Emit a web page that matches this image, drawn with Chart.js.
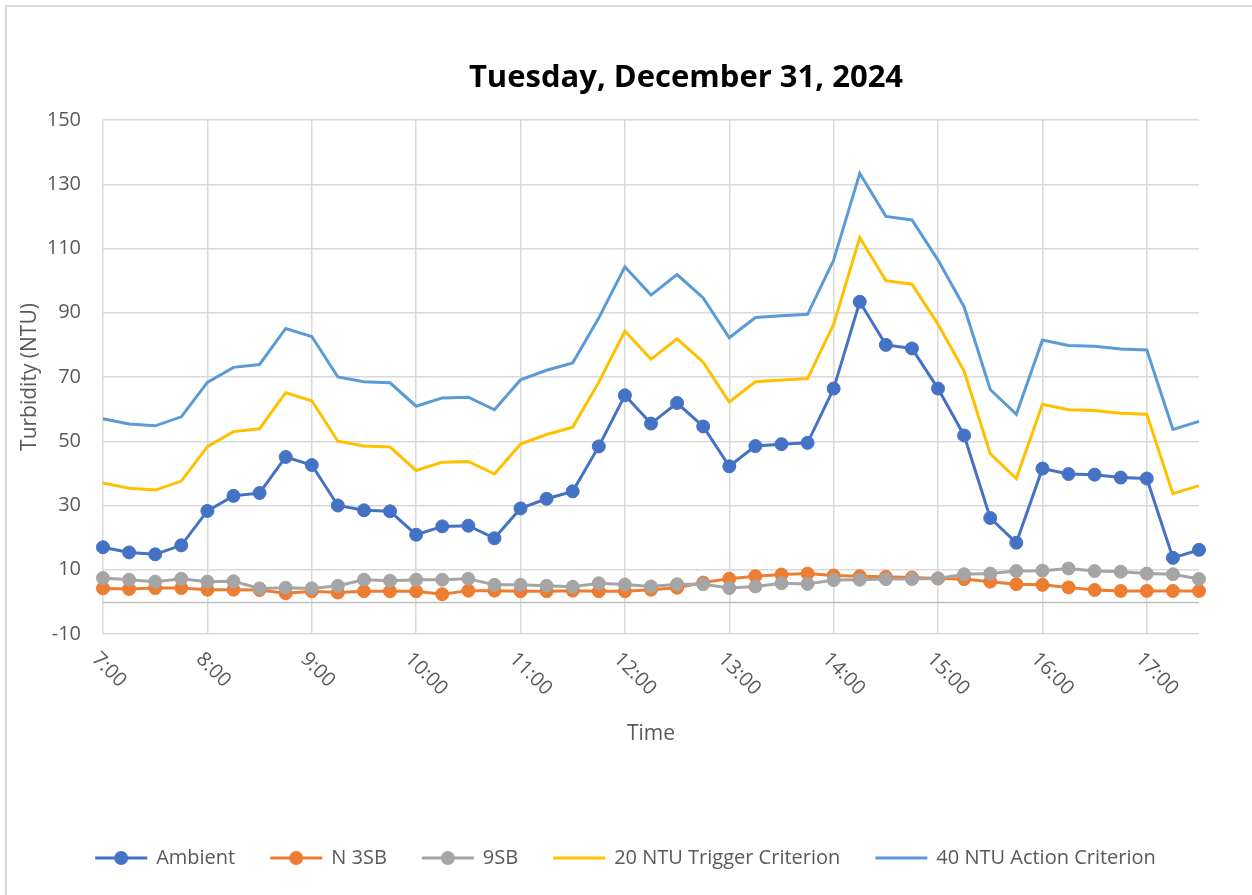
<!DOCTYPE html>
<html>
<head>
<meta charset="utf-8">
<title>Turbidity - Tuesday, December 31, 2024</title>
<script src="https://cdn.jsdelivr.net/npm/chart.js@4.4.1/dist/chart.umd.min.js"></script>
<style>
    html, body { margin: 0; padding: 0; background: #fff; }
    body { width: 1252px; height: 895px; overflow: hidden; position: relative; }
    .frame {
        position: absolute; left: 5px; top: 5px; width: 1400px; height: 1000px;
        border-left: 2px solid #d9d9d9; border-top: 2px solid #d9d9d9;
    }
    #turbidityChart { position: absolute; left: 0; top: 0; }
</style>
</head>
<body>
<div class="frame"></div>
<canvas id="turbidityChart" width="1252" height="895"></canvas>
<script>
const chartTitle = 'Tuesday, December 31, 2024';

// 15 minute readings
const times = [
    '7:00', '7:15', '7:30', '7:45', '8:00', '8:15', '8:30', '8:45',
    '9:00', '9:15', '9:30', '9:45', '10:00', '10:15', '10:30', '10:45',
    '11:00', '11:15', '11:30', '11:45', '12:00', '12:15', '12:30', '12:45',
    '13:00', '13:15', '13:30', '13:45', '14:00', '14:15', '14:30', '14:45',
    '15:00', '15:15', '15:30', '15:45', '16:00', '16:15', '16:30', '16:45',
    '17:00', '17:15', '17:30'
];

const ambient = [
    17, 15.4, 14.8, 17.6, 28.3, 33, 33.9, 45.1,
    42.6, 30, 28.5, 28.2, 20.9, 23.5, 23.7, 19.8,
    29.1, 32.1, 34.4, 48.4, 64.3, 55.5, 61.9, 54.6,
    42.2, 48.5, 49.1, 49.5, 66.4, 93.4, 80, 78.9,
    66.4, 51.8, 26.1, 18.4, 41.5, 39.8, 39.6, 38.7,
    38.4, 13.7, 16.2
];

const n3sb = [
    4.2, 4, 4.3, 4.3, 3.8, 3.8, 3.7, 2.7,
    3.3, 2.9, 3.3, 3.3, 3.3, 2.4, 3.5, 3.5,
    3.3, 3.3, 3.5, 3.3, 3.3, 3.8, 4.4, 6,
    7.2, 8, 8.5, 8.8, 8.2, 8, 7.8, 7.6,
    7.3, 7.1, 6.3, 5.5, 5.3, 4.5, 3.7, 3.4,
    3.4, 3.4, 3.4
];

const sb9 = [
    7.4, 6.9, 6.3, 7.2, 6.3, 6.4, 4.2, 4.4,
    4.2, 5, 6.9, 6.6, 6.9, 6.9, 7.2, 5.3,
    5.3, 5, 4.7, 5.8, 5.4, 4.8, 5.5, 5.5,
    4.3, 4.8, 5.8, 5.6, 6.8, 6.9, 7.1, 7.1,
    7.3, 8.6, 8.8, 9.6, 9.7, 10.4, 9.6, 9.4,
    8.8, 8.6, 7.1
];

const triggerCriterion = [
    37, 35.4, 34.8, 37.6, 48.3, 53, 53.9, 65.1,
    62.6, 50, 48.5, 48.2, 40.9, 43.5, 43.7, 39.8,
    49.1, 52.1, 54.4, 68.4, 84.3, 75.5, 81.9, 74.6,
    62.2, 68.5, 69.1, 69.5, 86.4, 113.4, 100, 98.9,
    86.4, 71.8, 46.1, 38.4, 61.5, 59.8, 59.6, 58.7,
    58.4, 33.7, 36.2
];

const actionCriterion = [
    57, 55.4, 54.8, 57.6, 68.3, 73, 73.9, 85.1,
    82.6, 70, 68.5, 68.2, 60.9, 63.5, 63.7, 59.8,
    69.1, 72.1, 74.4, 88.4, 104.3, 95.5, 101.9, 94.6,
    82.2, 88.5, 89.1, 89.5, 106.4, 133.4, 120, 118.9,
    106.4, 91.8, 66.1, 58.4, 81.5, 79.8, 79.6, 78.7,
    78.4, 53.7, 56.2
];

const yTicks = [-10, 10, 30, 50, 70, 90, 110, 130, 150];

const FONT = '"Open Sans"';
const TEXT_GREY = '#595959';
const GRID = '#d9d9d9';

// little line (+ dot) pictures for the legend
function legendMarker(color, withDot) {
    const c = document.createElement('canvas');
    c.width = 54;
    c.height = 16;
    const g = c.getContext('2d');
    g.strokeStyle = color;
    g.lineWidth = 3;
    g.beginPath();
    g.moveTo(1, 8);
    g.lineTo(53, 8);
    g.stroke();
    if (withDot) {
        g.fillStyle = color;
        g.beginPath();
        g.arc(27, 8, 7, 0, Math.PI * 2);
        g.fill();
    }
    return c;
}

// zero line (Excel draws the category axis at 0)
const zeroLine = {
    id: 'zeroLine',
    beforeDatasetsDraw(chart) {
        const y = Math.round(chart.scales.y.getPixelForValue(0)) + 0.5;
        const ctx = chart.ctx;
        ctx.save();
        ctx.strokeStyle = '#bfbfbf';
        ctx.lineWidth = 1.5;
        ctx.beginPath();
        ctx.moveTo(chart.chartArea.left, y);
        ctx.lineTo(chart.chartArea.right, y);
        ctx.stroke();
        ctx.restore();
    }
};

// hour labels, slanted down to the right
const hourLabels = {
    id: 'hourLabels',
    afterDraw(chart) {
        const xScale = chart.scales.x;
        const ctx = chart.ctx;
        ctx.save();
        ctx.font = '20px ' + FONT;
        ctx.fillStyle = TEXT_GREY;
        ctx.textAlign = 'left';
        ctx.textBaseline = 'top';
        times.forEach(function(t, i) {
            if (i % 4 !== 0) return;
            const x = xScale.getPixelForValue(i);
            ctx.save();
            ctx.translate(x - 1, xScale.top + 15);
            ctx.rotate(Math.PI / 4);
            ctx.fillText(t, 0, 0);
            ctx.restore();
        });
        ctx.restore();
    }
};

// chart title
const titlePlugin = {
    id: 'titlePlugin',
    afterDraw(chart) {
        const ctx = chart.ctx;
        ctx.save();
        ctx.font = 'bold 31px ' + FONT;
        ctx.fillStyle = '#000';
        ctx.textAlign = 'center';
        ctx.textBaseline = 'middle';
        ctx.fillText(chartTitle, 686, 78);
        ctx.restore();
    }
};

const pointSeries = {
    borderWidth: 3,
    pointRadius: 6.5,
    pointBorderWidth: 1,
    tension: 0
};

const chartData = {
    labels: times,
    datasets: [
        Object.assign({
            label: 'Ambient', data: ambient, order: 5,
            borderColor: '#4472c4', backgroundColor: '#4472c4', pointBackgroundColor: '#4472c4'
        }, pointSeries),
        Object.assign({
            label: 'N 3SB', data: n3sb, order: 4,
            borderColor: '#ed7d31', backgroundColor: '#ed7d31', pointBackgroundColor: '#ed7d31'
        }, pointSeries),
        Object.assign({
            label: '9SB', data: sb9, order: 3,
            borderColor: '#a5a5a5', backgroundColor: '#a5a5a5', pointBackgroundColor: '#a5a5a5'
        }, pointSeries),
        {
            label: '20 NTU Trigger Criterion', data: triggerCriterion, order: 2,
            borderColor: '#ffc000', backgroundColor: '#ffc000',
            borderWidth: 3, pointRadius: 0, tension: 0
        },
        {
            label: '40 NTU Action Criterion', data: actionCriterion, order: 1,
            borderColor: '#5b9bd5', backgroundColor: '#5b9bd5',
            borderWidth: 3, pointRadius: 0, tension: 0
        }
    ]
};

const markers = [
    legendMarker('#4472c4', true),
    legendMarker('#ed7d31', true),
    legendMarker('#a5a5a5', true),
    legendMarker('#ffc000', false),
    legendMarker('#5b9bd5', false)
];

const chartConfig = {
    type: 'line',
    data: chartData,
    options: {
        responsive: false,
        animation: false,
        events: [],
        layout: {
            padding: { top: 120, left: 0, right: 0, bottom: 17 }
        },
        plugins: {
            title: { display: false },
            tooltip: { enabled: false },
            legend: {
                position: 'bottom',
                labels: {
                    usePointStyle: true,
                    pointStyleWidth: 50,
                    padding: 36,
                    color: TEXT_GREY,
                    font: { family: FONT, size: 20 },
                    sort: function(a, b) { return a.datasetIndex - b.datasetIndex; },
                    generateLabels: function(chart) {
                        const items = Chart.defaults.plugins.legend.labels.generateLabels(chart);
                        items.forEach(function(item) {
                            item.pointStyle = markers[item.datasetIndex];
                        });
                        return items;
                    }
                }
            }
        },
        scales: {
            x: {
                type: 'category',
                offset: false,
                border: { display: false },
                grid: {
                    drawTicks: false,
                    color: function(ctx) { return ctx.index % 4 === 0 ? GRID : 'rgba(0,0,0,0)'; },
                    lineWidth: 1.5
                },
                ticks: { display: false, autoSkip: false },
                title: {
                    display: true,
                    text: 'Time',
                    color: TEXT_GREY,
                    font: { family: FONT, size: 21 },
                    padding: { top: 0, bottom: 65 }
                },
                afterFit: function(scale) { scale.height = 178; }
            },
            y: {
                min: -10,
                max: 150,
                border: { display: false },
                grid: { drawTicks: false, color: GRID, lineWidth: 1.5 },
                afterBuildTicks: function(scale) {
                    scale.ticks = yTicks.map(function(v) { return { value: v }; });
                },
                ticks: {
                    padding: 22,
                    color: TEXT_GREY,
                    font: { family: FONT, size: 20 }
                },
                title: {
                    display: true,
                    text: 'Turbidity (NTU)',
                    color: TEXT_GREY,
                    font: { family: FONT, size: 21 },
                    padding: { top: 17, bottom: 0 }
                },
                afterFit: function(scale) { scale.width = 103; }
            },
            // empty axis that only keeps room on the right
            spacer: {
                type: 'linear',
                position: 'right',
                display: true,
                grid: { display: false },
                border: { display: false },
                ticks: { display: false },
                afterFit: function(scale) { scale.width = 53; }
            }
        }
    },
    plugins: [zeroLine, hourLabels, titlePlugin]
};

const turbidityChart = new Chart(document.getElementById('turbidityChart'), chartConfig);
</script>
</body>
</html>
